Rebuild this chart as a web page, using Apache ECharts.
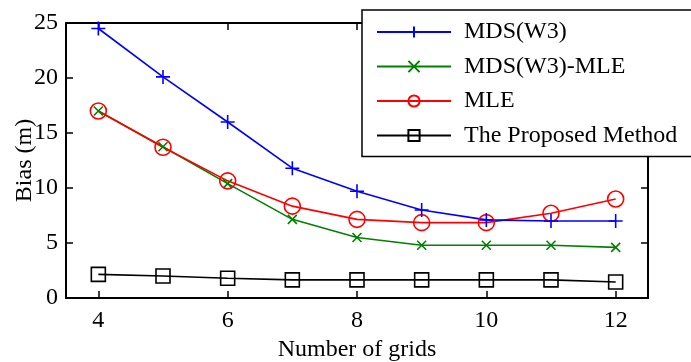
<!DOCTYPE html>
<html>
<head>
<meta charset="utf-8">
<script src="https://cdn.jsdelivr.net/npm/echarts@6/dist/echarts.min.js"></script>
<style>
  html, body { margin: 0; padding: 0; background: #fff; }
  #chart { width: 691px; height: 362px; }
</style>
</head>
<body>
<div id="chart"></div>
<script>
const grids = [4, 5, 6, 7, 8, 9, 10, 11, 12]
const mdsW3 = [24.5, 20.1, 16.0, 11.8, 9.7, 8.0, 7.1, 7.0, 7.0]
const mdsW3Mle = [17.0, 13.75, 10.4, 7.15, 5.5, 4.8, 4.8, 4.8, 4.6]
const mle = [17.0, 13.7, 10.65, 8.35, 7.15, 6.85, 6.85, 7.7, 9.0]
const proposed = [2.15, 2.0, 1.8, 1.65, 1.65, 1.65, 1.65, 1.65, 1.45]
const xTicks = [4, 6, 8, 10, 12]

const FONT = '"Liberation Serif", "Times New Roman", serif'
const FS = 24
const PLUS = 'path://M5,0 L5,10 M0,5 L10,5'
const CROSS = 'path://M0,0 L10,10 M0,10 L10,0'

const pairs = ys => grids.map((g, i) => [g, ys[i]])

function series(name, ys, color, symbol, size) {
    return {
        name, type: 'line', data: pairs(ys),
        symbol, symbolSize: size,
        lineStyle: { color, width: 1.6 },
        itemStyle: { color: 'transparent', borderColor: color, borderWidth: 1.6 },
        emphasis: { disabled: true },
        animation: false,
    }
}

const axisCommon = {
    axisLine: { show: true, onZero: false, lineStyle: { color: '#000', width: 2 } },
    axisTick: { show: true, inside: true, length: 7, lineStyle: { color: '#000', width: 1.5 } },
    splitLine: { show: false },
}

const chart = echarts.init(document.getElementById('chart'), null, { renderer: 'canvas' })
chart.setOption({
    backgroundColor: '#fff',
    grid: { left: 66, right: 43, top: 23, bottom: 64, containLabel: false, outerBoundsMode: 'none' },
    xAxis: [
        {
            type: 'value', min: 3.5, max: 12.5, position: 'bottom',
            ...axisCommon,
            axisTick: { ...axisCommon.axisTick, customValues: xTicks },
            axisLabel: { customValues: xTicks, color: '#000', fontFamily: FONT, fontSize: FS, margin: 11 },
            name: 'Number of grids', nameLocation: 'middle', nameGap: 52, nameMoveOverlap: false,
            nameTextStyle: { color: '#000', fontFamily: FONT, fontSize: FS, verticalAlign: 'middle' },
        },
        {
            type: 'value', min: 3.5, max: 12.5, position: 'top',
            ...axisCommon,
            axisTick: { ...axisCommon.axisTick, customValues: xTicks },
            axisLabel: { show: false },
        },
    ],
    yAxis: [
        {
            type: 'value', min: 0, max: 25, interval: 5, position: 'left',
            ...axisCommon,
            axisLabel: { color: '#000', fontFamily: FONT, fontSize: FS, margin: 8 },
            name: 'Bias (m)', nameLocation: 'middle', nameGap: 41, nameMoveOverlap: false,
            nameTextStyle: { color: '#000', fontFamily: FONT, fontSize: FS, verticalAlign: 'middle' },
        },
        {
            type: 'value', min: 0, max: 25, interval: 5, position: 'right',
            ...axisCommon,
            axisLabel: { show: false },
        },
    ],
    legend: {
        orient: 'vertical', left: 362, top: 10,
        padding: [10, 40, 9, 14],
        itemWidth: 74, itemHeight: 14, itemGap: 10.5,
        backgroundColor: '#fff', borderColor: '#000', borderWidth: 1.5,
        textStyle: { color: '#000', fontFamily: FONT, fontSize: FS, padding: [0, 0, 0, 8] },
        data: ['MDS(W3)', 'MDS(W3)-MLE', 'MLE', 'The Proposed Method'],
    },
    series: [
        series('The Proposed Method', proposed, '#000', 'rect', 14),
        series('MDS(W3)-MLE', mdsW3Mle, '#008000', CROSS, 9),
        series('MLE', mle, '#ff0000', 'circle', 16),
        series('MDS(W3)', mdsW3, '#0000ff', PLUS, 14),
    ],
})
</script>
</body>
</html>
